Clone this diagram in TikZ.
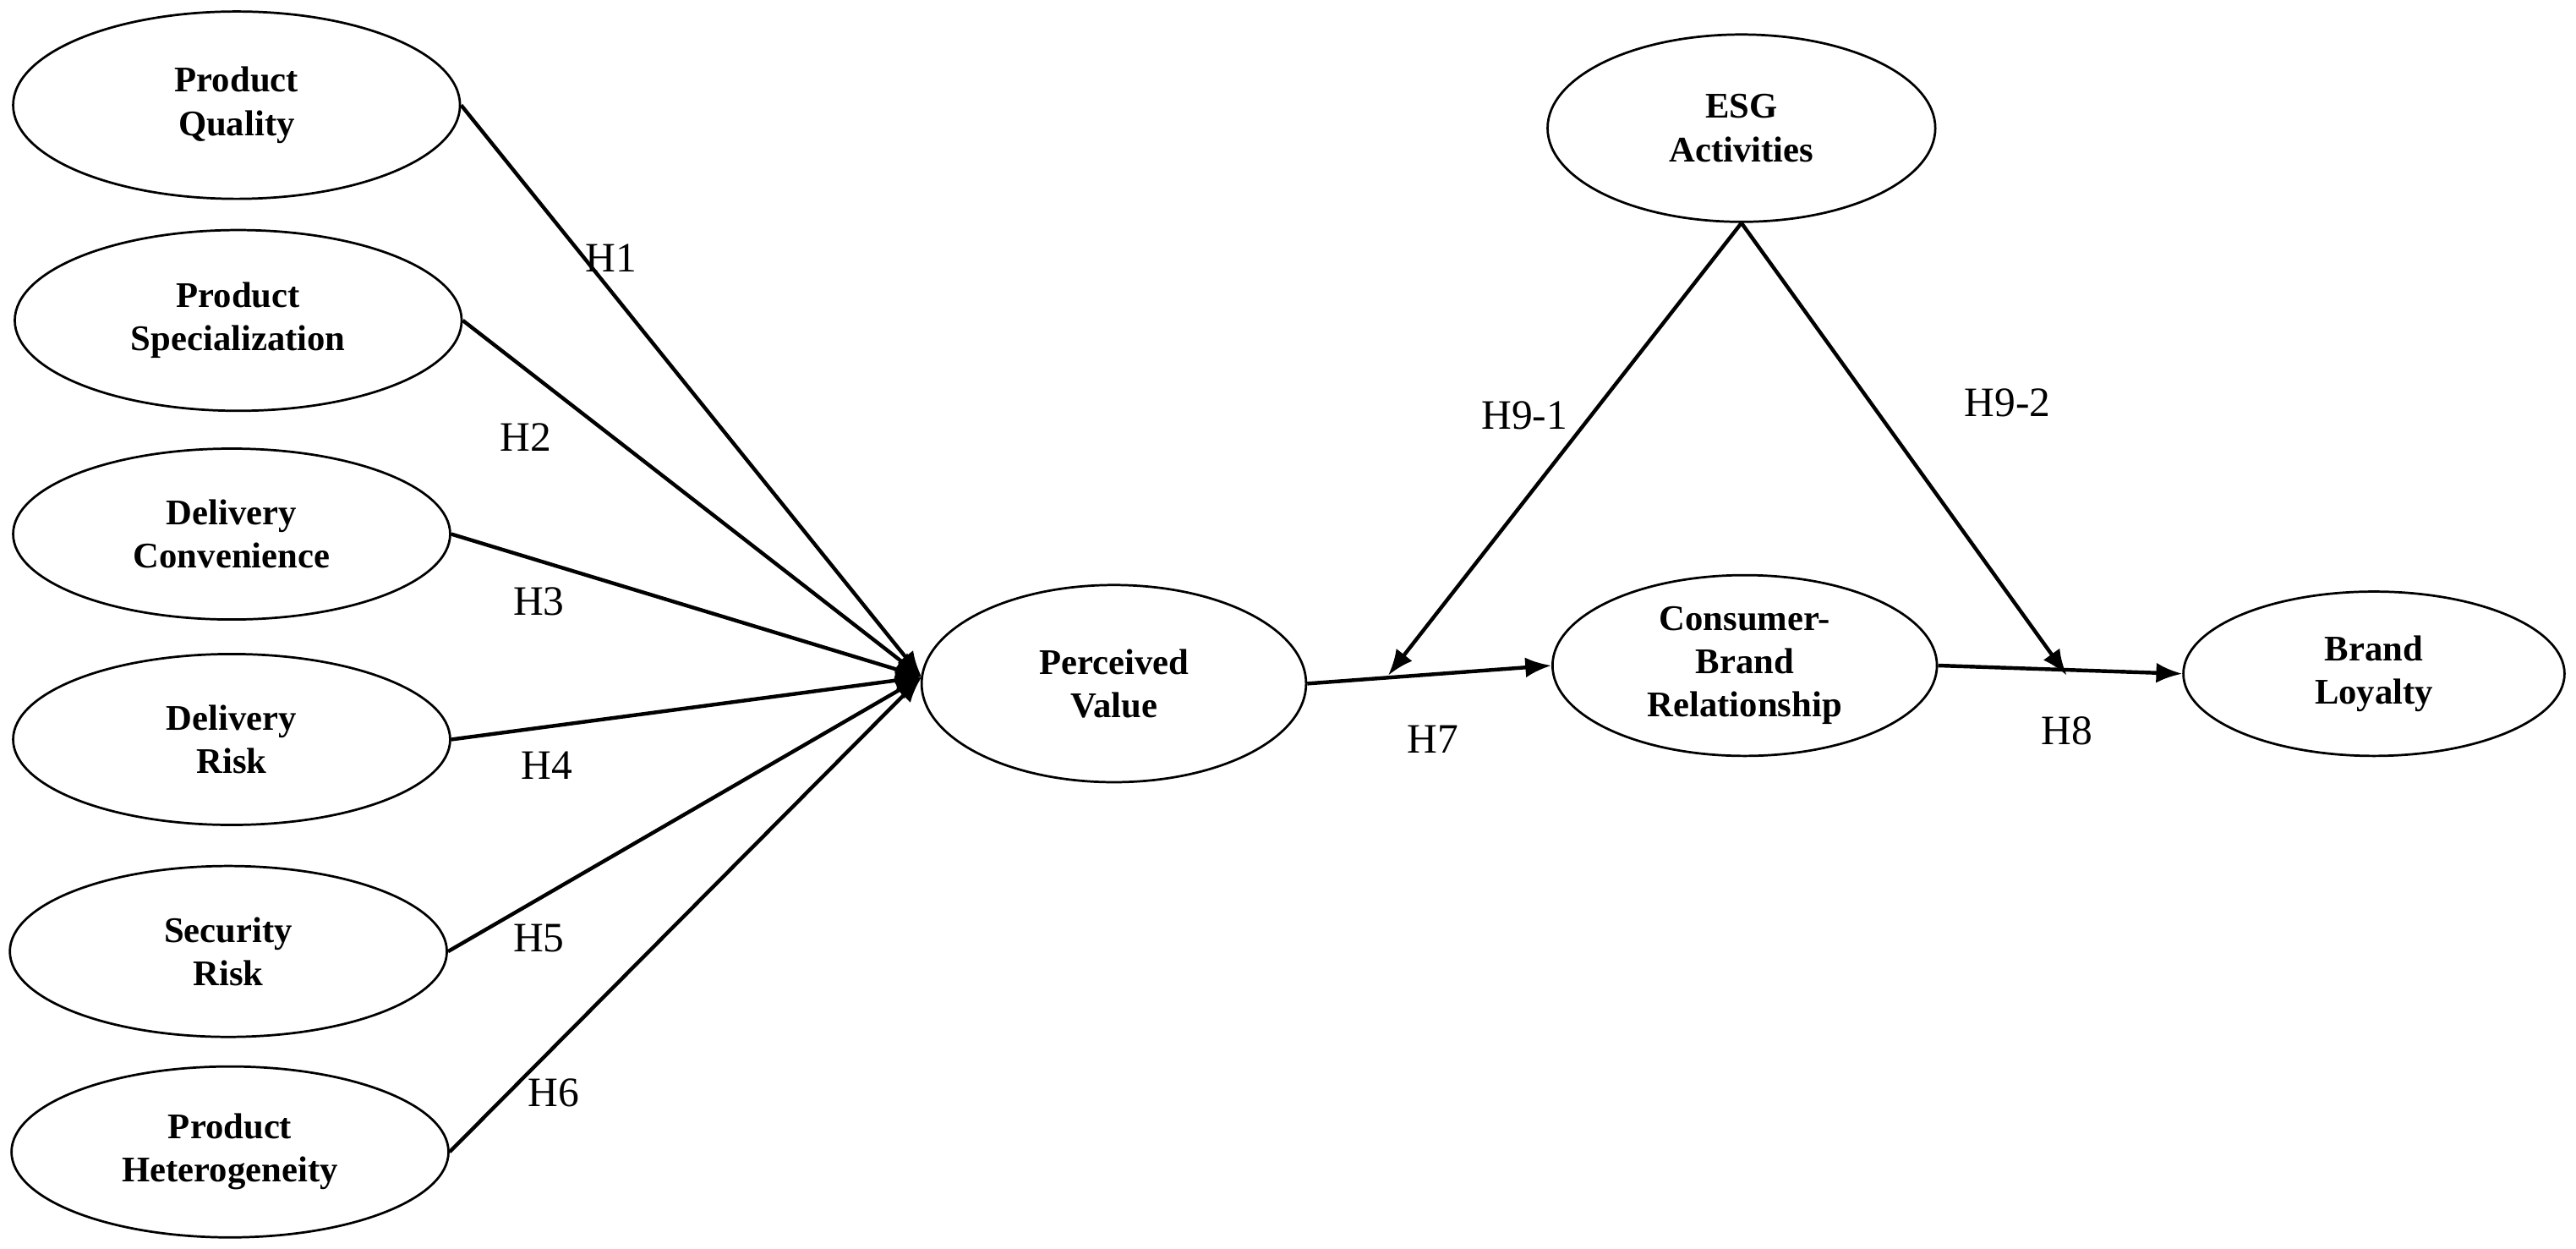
\documentclass[tikz,border=0pt]{standalone}
\usepackage{fontspec}
\setmainfont{Liberation Serif}
\usetikzlibrary{arrows.meta,shapes.geometric}
\begin{document}
\begin{tikzpicture}[x=0.02cm,y=-0.02cm,
 ell/.style 2 args={draw,ellipse,line width=0.8pt,font=\fontsize{12.5}{15}\selectfont\bfseries,align=center,inner sep=0pt,minimum width=#1*0.02cm,minimum height=#2*0.02cm},
 arr/.style={line width=1.3pt,-{Latex[length=9pt,width=7pt]}},
 lab/.style={font=\fontsize{14.5}{17}\selectfont}]
\useasboundingbox (0,0) rectangle (1568,760);
\node[ell={272}{114}] (pq) at (144,64) {Product\\Quality};
\node[ell={272}{110}] (ps) at (145,195) {Product\\Specialization};
\node[ell={266}{104}] (dc) at (141,325) {Delivery\\Convenience};
\node[ell={266}{104}] (dr) at (141,450) {Delivery\\Risk};
\node[ell={266}{104}] (sr) at (139,579) {Security\\Risk};
\node[ell={266}{104}] (ph) at (140,701) {Product\\Heterogeneity};
\node[ell={234}{120}] (pv) at (678,416) {Perceived\\Value};
\node[ell={236}{114}] (esg) at (1060,78) {ESG\\Activities};
\node[ell={234}{110}] (cbr) at (1062,405) {Consumer-\\Brand\\Relationship};
\node[ell={232}{100}] (bl) at (1445,410) {Brand\\Loyalty};
\coordinate (t) at (561,412);
\draw[arr] (pq.east) -- (t);
\draw[arr] (ps.east) -- (t);
\draw[arr] (dc.east) -- (t);
\draw[arr] (dr.east) -- (t);
\draw[arr] (sr.east) -- (t);
\draw[arr] (ph.east) -- (t);
\draw[arr] (pv.east) -- (cbr.west);
\draw[arr] (cbr.east) -- (bl.west);
\coordinate (m1) at (845,411);
\coordinate (m2) at (1258,411);
\draw[arr] (esg.south) -- (m1);
\draw[arr] (esg.south) -- (m2);
\node[lab] at (372,157) {H1};
\node[lab] at (320,266) {H2};
\node[lab] at (328,366) {H3};
\node[lab] at (333,466) {H4};
\node[lab] at (328,571) {H5};
\node[lab] at (337,665) {H6};
\node[lab] at (872,450) {H7};
\node[lab] at (1258,445) {H8};
\node[lab] at (928,253) {H9-1};
\node[lab] at (1222,245) {H9-2};
\end{tikzpicture}
\end{document}
